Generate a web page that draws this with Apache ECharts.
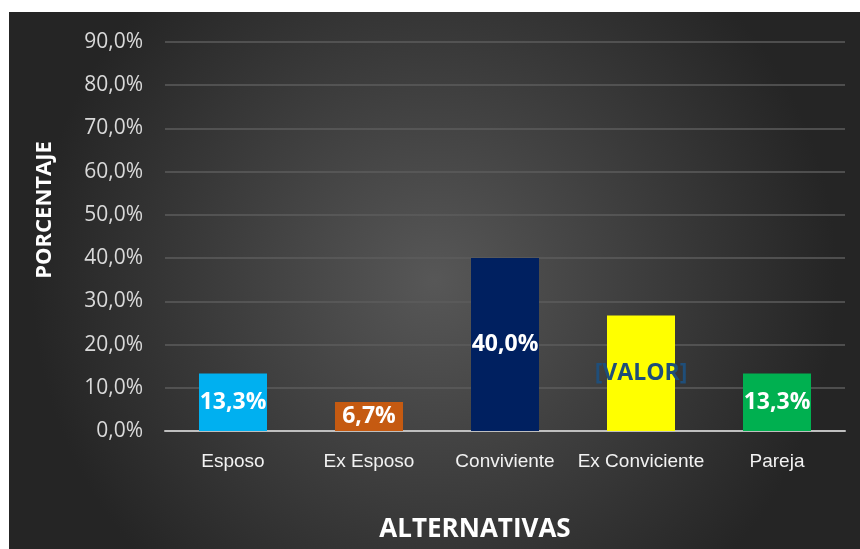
<!DOCTYPE html>
<html>
<head>
<meta charset="utf-8">
<script src="https://cdn.jsdelivr.net/npm/echarts@6/dist/echarts.min.js"></script>
<style>
  html, body { margin: 0; padding: 0; background: #ffffff; }
  #chart { position: absolute; left: 9px; top: 12px; width: 851px; height: 537px; }
</style>
</head>
<body>
<div id="chart"></div>
<script>
const categories = ['Esposo', 'Ex Esposo', 'Conviviente', 'Ex Conviciente', 'Pareja']
const values = [13.3, 6.7, 40.0, 26.7, 13.3]
const barColors = ['#00b0f0', '#c55a11', '#002060', '#ffff00', '#00b050']
const labelTexts = ['13,3%', '6,7%', '40,0%', '[VALOR]', '13,3%']
const labelColors = ['#ffffff', '#ffffff', '#ffffff', '#1f4e79', '#ffffff']

const fmtPct = v => v.toFixed(1).replace('.', ',') + '%'

const chart = echarts.init(document.getElementById('chart'))
chart.setOption({
  backgroundColor: {
    type: 'radial', x: 0.5, y: 0.5, r: 0.75,
    colorStops: [
      { offset: 0, color: '#575757' },
      { offset: 1, color: '#252525' }
    ]
  },
  grid: { left: 156, right: 15, top: 30, bottom: 118 },
  // axis titles sit off-centre in the original, so place them by hand
  graphic: [
    {
      type: 'text', x: 36, y: 198, rotation: Math.PI / 2,
      style: {
        text: 'PORCENTAJE', fill: '#ffffff', fontSize: 22, fontWeight: 'bold',
        fontFamily: 'Open Sans', align: 'center', verticalAlign: 'middle'
      }
    },
    {
      type: 'text', x: 466, y: 518,
      style: {
        text: 'ALTERNATIVAS', fill: '#ffffff', fontSize: 26, fontWeight: 'bold',
        fontFamily: 'Open Sans', align: 'center', verticalAlign: 'middle'
      }
    }
  ],
  xAxis: {
    type: 'category',
    data: categories,
    axisLine: { lineStyle: { color: '#bfbfbf', width: 2 } },
    axisTick: { show: false },
    axisLabel: { interval: 0, color: '#f2f2f2', fontSize: 19, margin: 21, fontFamily: 'Liberation Sans' }
  },
  yAxis: {
    type: 'value',
    min: 0,
    max: 90,
    interval: 10,
    axisLine: { show: false },
    axisTick: { show: false },
    splitLine: { lineStyle: { color: '#5c5c5c', width: 1.5 } },
    axisLabel: { color: '#d9d9d9', fontSize: 21, margin: 22, fontFamily: 'Open Sans', formatter: v => fmtPct(v) }
  },
  series: [{
    type: 'bar',
    barWidth: '50%',
    data: values.map((v, i) => ({
      value: v,
      itemStyle: { color: barColors[i] },
      label: { color: labelColors[i] }
    })),
    label: {
      show: true,
      position: 'inside',
      overflow: 'none',
      fontSize: 23,
      fontWeight: 'bold',
      fontFamily: 'Open Sans',
      formatter: p => labelTexts[p.dataIndex]
    },
    animation: false
  }]
})
</script>
</body>
</html>
